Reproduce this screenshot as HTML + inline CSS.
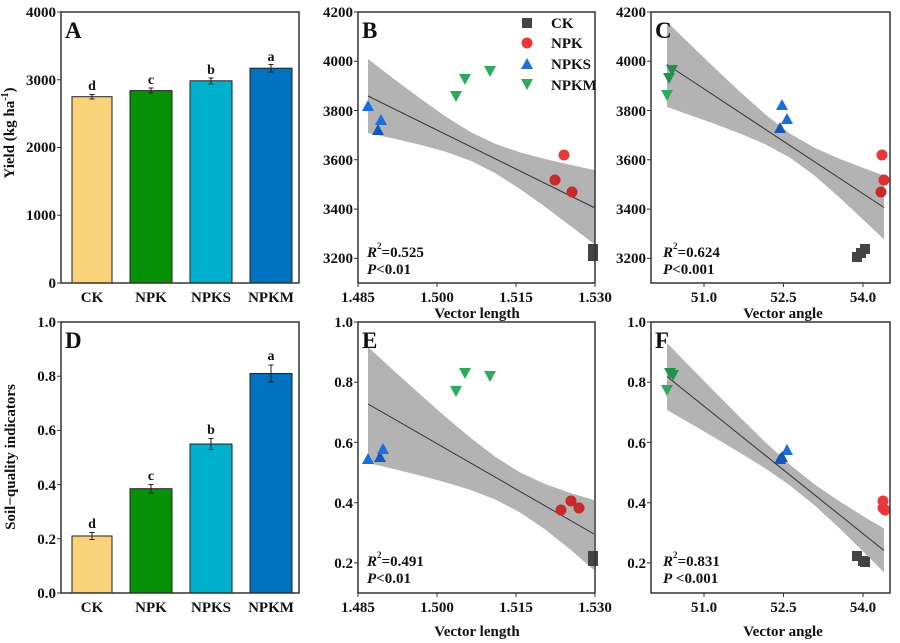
<!DOCTYPE html>
<html><head><meta charset="utf-8"><style>
html,body{margin:0;padding:0;background:#fff;}
svg{display:block;font-family:"Liberation Serif",serif;font-weight:bold;}
</style></head><body>
<svg width="900" height="643" viewBox="0 0 900 643" xmlns="http://www.w3.org/2000/svg">
<g font-size="15" fill="#111">
<!-- ================= A ================= -->
<g stroke="#222" stroke-width="1">
<rect x="72" y="96.7" width="40" height="186.3" fill="#f9d27a"/>
<rect x="130" y="90.6" width="42" height="192.4" fill="#079107"/>
<rect x="190" y="80.8" width="42" height="202.2" fill="#00b0cc"/>
<rect x="250" y="68.2" width="42" height="214.8" fill="#0072c0"/>
<path d="M92 94.5V99M89.5 94.5h5M89.5 99h5 M151 88V93M148.5 88h5M148.5 93h5 M211 78V84M208.5 78h5M208.5 84h5 M271 64.5V72M268.5 64.5h5M268.5 72h5" fill="none"/>
</g>
<g text-anchor="middle" font-size="14">
<text x="92" y="90">d</text><text x="151" y="84">c</text><text x="211" y="74">b</text><text x="271" y="61">a</text>
</g>
<rect x="61" y="12" width="238" height="271" fill="none" stroke="#333" stroke-width="1.5"/>
<g stroke="#333"><path d="M61 283h-4M61 215.25h-4M61 147.5h-4M61 79.75h-4M61 12h-4"/></g>
<g text-anchor="end"><text x="56" y="288">0</text><text x="56" y="220">1000</text><text x="56" y="152">2000</text><text x="56" y="85">3000</text><text x="56" y="17">4000</text></g>
<g text-anchor="middle"><text x="92" y="302">CK</text><text x="151" y="302">NPK</text><text x="211" y="302">NPKS</text><text x="271" y="302">NPKM</text></g>
<text x="65" y="38" font-size="23">A</text>
<text transform="translate(14,133) rotate(-90)" text-anchor="middle" font-size="15">Yield (kg ha<tspan font-size="10" dy="-6">-1</tspan><tspan dy="6">)</tspan></text>

<!-- ================= B ================= -->
<polygon fill="#b3b3b3" points="368,59 395,79.7 420,98.3 445,116.1 470,131.7 495,143.8 520,152.4 545,159 570,164.8 595,170.2 595,244.8 570,225.6 545,206.8 520,189 495,173 470,160.5 445,151.5 420,144.7 395,138.9 368,133"/>
<line x1="368" y1="96" x2="594" y2="207.5" stroke="#333" stroke-width="1"/>
<g fill="#1a6fdc"><polygon points="368,100 362,111 374,111"/><polygon points="381,114 375,125 387,125"/><polygon points="378,124 372,135 384,135" fill="#1557b8"/></g>
<g fill="#2daa5e"><polygon points="450,91 462,91 456,102"/><polygon points="459,74 471,74 465,85"/><polygon points="484,66 496,66 490,77"/></g>
<g fill="#e83838"><circle cx="564" cy="155" r="5.5"/><circle cx="555" cy="180" r="5.5" fill="#c82a2a"/><circle cx="572" cy="192" r="5.5" fill="#c82a2a"/></g>
<g fill="#444"><rect x="588" y="244" width="10" height="10"/><rect x="588" y="251" width="10" height="10"/></g>
<rect x="358" y="12" width="237" height="271" fill="none" stroke="#333" stroke-width="1.5"/>
<g stroke="#333"><path d="M358 258.4h-4M358 209.1h-4M358 159.8h-4M358 110.5h-4M358 61.3h-4M358 12h-4 M358 283v4M437 283v4M516 283v4M595 283v4"/></g>
<g text-anchor="end"><text x="353" y="263">3200</text><text x="353" y="214">3400</text><text x="353" y="165">3600</text><text x="353" y="116">3800</text><text x="353" y="66">4000</text><text x="353" y="17">4200</text></g>
<g text-anchor="middle"><text x="358" y="302">1.485</text><text x="437" y="302">1.500</text><text x="516" y="302">1.515</text><text x="595" y="302">1.530</text><text x="477" y="318">Vector length</text></g>
<text x="362" y="38" font-size="23">B</text>
<rect x="522" y="18" width="10" height="10" fill="#444"/>
<circle cx="527" cy="43" r="5.5" fill="#e83838"/>
<polygon points="527,58 521,69 533,69" fill="#1a6fdc"/>
<polygon points="521,79 533,79 527,90" fill="#2daa5e"/>
<g font-size="15"><text x="551" y="28">CK</text><text x="551" y="48">NPK</text><text x="551" y="69">NPKS</text><text x="551" y="90">NPKM</text></g>
<text x="367" y="257" font-style="italic">R<tspan font-size="9" dy="-8" font-style="normal">2</tspan><tspan dy="8" font-style="normal">=0.525</tspan></text>
<text x="367" y="274" font-style="italic">P<tspan font-style="normal">&lt;0.01</tspan></text>

<!-- ================= C ================= -->
<polygon fill="#b3b3b3" points="667,22 690,44.3 715,68.2 740,91.7 765,114.1 790,133.6 815,148 840,159 865,168.6 884,175.5 884,239.5 865,221.4 840,198 815,176 790,157.6 765,144.1 740,133.5 715,124 690,115.1 667,107"/>
<line x1="667" y1="64.5" x2="884" y2="207.5" stroke="#333" stroke-width="1"/>
<g fill="#2daa5e"><polygon points="661,90 673,90 667,101"/><polygon points="666,65 678,65 672,76" fill="#23904e"/><polygon points="663,73 675,73 669,84" fill="#23904e"/></g>
<g fill="#1a6fdc"><polygon points="782,99 776,110 788,110"/><polygon points="787,113 781,124 793,124"/><polygon points="780,122 774,133 786,133" fill="#1557b8"/></g>
<g fill="#e83838"><circle cx="882" cy="155" r="5.5"/><circle cx="884" cy="180" r="5.5" fill="#d83030"/><circle cx="881" cy="192" r="5.5" fill="#c82a2a"/></g>
<g fill="#444"><rect x="852" y="252" width="10" height="10"/><rect x="856" y="248" width="10" height="10"/><rect x="860" y="244" width="10" height="10"/></g>
<rect x="651" y="12" width="239" height="271" fill="none" stroke="#333" stroke-width="1.5"/>
<g stroke="#333"><path d="M651 258.4h-4M651 209.1h-4M651 159.8h-4M651 110.5h-4M651 61.3h-4M651 12h-4 M704 283v4M783.5 283v4M863 283v4"/></g>
<g text-anchor="end"><text x="646" y="263">3200</text><text x="646" y="214">3400</text><text x="646" y="165">3600</text><text x="646" y="116">3800</text><text x="646" y="66">4000</text><text x="646" y="17">4200</text></g>
<g text-anchor="middle"><text x="704" y="302">51.0</text><text x="783.5" y="302">52.5</text><text x="863" y="302">54.0</text><text x="783" y="318">Vector angle</text></g>
<text x="655" y="38" font-size="23">C</text>
<text x="663" y="257" font-style="italic">R<tspan font-size="9" dy="-8" font-style="normal">2</tspan><tspan dy="8" font-style="normal">=0.624</tspan></text>
<text x="663" y="274" font-style="italic">P<tspan font-style="normal">&lt;0.001</tspan></text>

<!-- ================= D ================= -->
<g stroke="#222" stroke-width="1">
<rect x="72" y="536" width="40" height="57" fill="#f9d27a"/>
<rect x="130" y="488.7" width="42" height="104.3" fill="#079107"/>
<rect x="190" y="444" width="42" height="149" fill="#00b0cc"/>
<rect x="250" y="373.5" width="42" height="219.5" fill="#0072c0"/>
<path d="M92 532.5V539.5M89.5 532.5h5M89.5 539.5h5 M151 484.5V493M148.5 484.5h5M148.5 493h5 M211 438.5V449.5M208.5 438.5h5M208.5 449.5h5 M271 365V382M268.5 365h5M268.5 382h5" fill="none"/>
</g>
<g text-anchor="middle" font-size="14">
<text x="92" y="528">d</text><text x="151" y="480">c</text><text x="211" y="434">b</text><text x="271" y="360">a</text>
</g>
<rect x="61" y="322" width="238" height="271" fill="none" stroke="#333" stroke-width="1.5"/>
<g stroke="#333"><path d="M61 593h-4M61 538.8h-4M61 484.6h-4M61 430.4h-4M61 376.2h-4M61 322h-4"/></g>
<g text-anchor="end"><text x="56" y="598">0.0</text><text x="56" y="544">0.2</text><text x="56" y="490">0.4</text><text x="56" y="435">0.6</text><text x="56" y="381">0.8</text><text x="56" y="327">1.0</text></g>
<g text-anchor="middle"><text x="92" y="612">CK</text><text x="151" y="612">NPK</text><text x="211" y="612">NPKS</text><text x="271" y="612">NPKM</text></g>
<text x="65" y="348" font-size="23">D</text>
<text transform="translate(15,457) rotate(-90)" text-anchor="middle" font-size="15">Soil−quality indicators</text>

<!-- ================= E ================= -->
<polygon fill="#b3b3b3" points="368,347 395,371.7 420,394.3 445,416.4 470,437.4 495,456.6 520,472.4 545,484 570,492.9 594,500 594,570 570,549.3 545,529.4 520,512.4 495,499.4 470,489.8 445,482.2 420,475.5 395,469.3 368,463"/>
<line x1="368" y1="404" x2="594" y2="534" stroke="#333" stroke-width="1"/>
<g fill="#1a6fdc"><polygon points="368,453 362,464 374,464"/><polygon points="380,451 374,462 386,462" fill="#1557b8"/><polygon points="383,443 377,454 389,454"/></g>
<g fill="#2daa5e"><polygon points="450,386 462,386 456,397"/><polygon points="459,368 471,368 465,379"/><polygon points="484,371 496,371 490,382"/></g>
<g fill="#c82a2a"><circle cx="561" cy="510" r="5.5"/><circle cx="571" cy="501" r="5.5"/><circle cx="579" cy="508" r="5.5"/></g>
<g fill="#444"><rect x="588" y="551" width="10" height="10"/><rect x="588" y="556" width="10" height="10"/></g>
<rect x="358" y="322" width="237" height="271" fill="none" stroke="#333" stroke-width="1.5"/>
<g stroke="#333"><path d="M358 562.9h-4M358 502.7h-4M358 442.4h-4M358 382.2h-4M358 322h-4 M358 593v4M437 593v4M516 593v4M595 593v4"/></g>
<g text-anchor="end"><text x="353" y="568">0.2</text><text x="353" y="508">0.4</text><text x="353" y="448">0.6</text><text x="353" y="387">0.8</text><text x="353" y="327">1.0</text></g>
<g text-anchor="middle"><text x="358" y="612">1.485</text><text x="437" y="612">1.500</text><text x="516" y="612">1.515</text><text x="595" y="612">1.530</text><text x="477" y="636">Vector length</text></g>
<text x="362" y="348" font-size="23">E</text>
<text x="367" y="566" font-style="italic">R<tspan font-size="9" dy="-8" font-style="normal">2</tspan><tspan dy="8" font-style="normal">=0.491</tspan></text>
<text x="367" y="583" font-style="italic">P<tspan font-style="normal">&lt;0.01</tspan></text>

<!-- ================= F ================= -->
<polygon fill="#b3b3b3" points="667,343 690,366.6 715,392.1 740,417.3 765,441.9 790,464.7 815,484.7 840,501.6 865,517.2 884,528.5 884,572.5 865,553.4 840,528.8 815,505.7 790,485.5 765,468.3 740,452.7 715,437.9 690,423.2 667,410"/>
<line x1="667" y1="376.5" x2="884" y2="550.5" stroke="#333" stroke-width="1"/>
<g fill="#2daa5e"><polygon points="661,385 673,385 667,396"/><polygon points="664,368 676,368 670,379" fill="#23904e"/><polygon points="667,370 679,370 673,381" fill="#23904e"/></g>
<g fill="#1a6fdc"><polygon points="787,444 781,455 793,455"/><polygon points="780,453 774,464 786,464" fill="#1557b8"/><polygon points="782,451 776,462 788,462" fill="#1557b8"/></g>
<g fill="#e83838"><circle cx="883" cy="501" r="5.5"/><circle cx="883" cy="508" r="5.5"/><circle cx="885" cy="510" r="5.5"/></g>
<g fill="#444"><rect x="852" y="551" width="10" height="10"/><rect x="858" y="556" width="10" height="10"/><rect x="860" y="557" width="10" height="10"/></g>
<rect x="651" y="322" width="239" height="271" fill="none" stroke="#333" stroke-width="1.5"/>
<g stroke="#333"><path d="M651 562.9h-4M651 502.7h-4M651 442.4h-4M651 382.2h-4M651 322h-4 M704 593v4M783.5 593v4M863 593v4"/></g>
<g text-anchor="end"><text x="646" y="568">0.2</text><text x="646" y="508">0.4</text><text x="646" y="448">0.6</text><text x="646" y="387">0.8</text><text x="646" y="327">1.0</text></g>
<g text-anchor="middle"><text x="704" y="612">51.0</text><text x="783.5" y="612">52.5</text><text x="863" y="612">54.0</text><text x="783" y="636">Vector angle</text></g>
<text x="655" y="348" font-size="23">F</text>
<text x="663" y="566" font-style="italic">R<tspan font-size="9" dy="-8" font-style="normal">2</tspan><tspan dy="8" font-style="normal">=0.831</tspan></text>
<text x="663" y="583" font-style="italic">P<tspan font-style="normal"> &lt;0.001</tspan></text>
</g>
</svg>
</body></html>
